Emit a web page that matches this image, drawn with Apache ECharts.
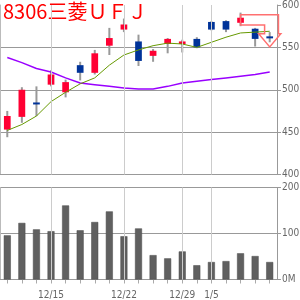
<!DOCTYPE html>
<html>
<head>
<meta charset="utf-8">
<script src="https://cdn.jsdelivr.net/npm/echarts@6/dist/echarts.min.js"></script>
<style>
html,body{margin:0;padding:0;background:#fff;}
#chart{width:300px;height:300px;}
</style>
</head>
<body>
<div id="chart"></div>
<script>
var title = '8306三菱ＵＦＪ';
var dates = ['12/10','12/11','12/12','12/15','12/16','12/17','12/18','12/19','12/22','12/24','12/25','12/26','12/29','12/30','1/5','1/6','1/7','1/8','1/9'];
var labelDates = ['12/15','12/22','12/29','1/5'];
var opens  = [453,468,485,506,497,529,520,552,571,557,540,554,554,560,580,581,579,572,563];
var closes = [469,500,484,518,509,520,543,561,577,534,546,560,557,550,571,571,585,560,562];
var lows   = [444,461,469,504,491,511,518,541,568,528,533,543,544,549,570,568,575,551,556];
var highs  = [475,503,504,523,512,533,547,573,584,565,548,561,559,562,581,582,591,573,568];
var maShort = [452,459,469,486,497,507,514,529,541,547,552,555,554,550,556,562,567,568,569];
var maLong  = [538,532,525,521,514,508,506,504,502,501,501,504,508,510,512,514,516,518,521];
var volume  = [96,123,109,105,161,107,125,148,94,111,53,46,61,31,38,40,57,51,38]; // 百万株
// 矢印: 1/7 の高値付近から 1/9 へ
var arrowFrom = ['1/7', 588.5, 576.5];
var arrowTo   = ['1/9', 566, 550.5];

var labelFont = '"Liberation Sans Narrow","DejaVu Sans Condensed","DejaVu Sans",sans-serif';
var grayLine = '#999';

var chart = echarts.init(document.getElementById('chart'));

var vlines = labelDates.map(function(d){ return {xAxis: d}; });
var vlineMark = {
	silent: true,
	symbol: 'none',
	label: {show: false},
	lineStyle: {color: '#ccc', width: 1, type: 'solid'},
	data: vlines
};

var option = {
	animation: false,
	graphic: [{
		type: 'text',
		left: 3,
		top: 1,
		style: {text: title, fill: '#ff0000', font: '20px "Noto Sans CJK JP"'}
	}],
	grid: [
		{left: 0, right: 23, top: 5, height: 169.5, outerBoundsMode: 'none'},
		{left: 0, right: 23, top: 187.5, height: 92, outerBoundsMode: 'none'}
	],
	xAxis: [{
		type: 'category', gridIndex: 0, data: dates,
		axisLine: {lineStyle: {color: grayLine}},
		axisTick: {show: false},
		axisLabel: {show: false},
		splitLine: {show: false}
	}, {
		type: 'category', gridIndex: 1, data: dates,
		axisLine: {lineStyle: {color: grayLine}},
		axisTick: {show: true, alignWithLabel: true, interval: 0, length: 4, lineStyle: {color: '#aaa'}},
		axisLabel: {
			interval: function(i, v){ return labelDates.indexOf(v) >= 0; },
			color: '#666', fontSize: 10, fontFamily: labelFont, margin: 11
		},
		splitLine: {show: false}
	}],
	yAxis: [{
		type: 'value', gridIndex: 0, position: 'right', min: 400, max: 600, interval: 50,
		axisLine: {show: true, lineStyle: {color: grayLine}},
		axisTick: {show: true, length: 4, lineStyle: {color: grayLine}},
		axisLabel: {color: '#666', fontSize: 10, fontFamily: labelFont, margin: 5},
		splitLine: {show: true, lineStyle: {color: [grayLine, grayLine, grayLine, grayLine, 'rgba(0,0,0,0)']}}
	}, {
		type: 'value', gridIndex: 1, position: 'right', min: 0, max: 200, interval: 100,
		axisLine: {show: true, lineStyle: {color: grayLine}},
		axisTick: {show: true, length: 4, lineStyle: {color: grayLine}},
		axisLabel: {color: '#666', fontSize: 10, fontFamily: labelFont, margin: 5, formatter: '{value}M'},
		splitLine: {show: true, lineStyle: {color: grayLine}}
	}, {
		type: 'value', gridIndex: 0, position: 'left', min: 400, max: 600,
		axisLine: {show: true, lineStyle: {color: '#bbb'}},
		axisTick: {show: false}, axisLabel: {show: false}, splitLine: {show: false}
	}, {
		type: 'value', gridIndex: 1, position: 'left', min: 0, max: 200,
		axisLine: {show: true, lineStyle: {color: '#bbb'}},
		axisTick: {show: false}, axisLabel: {show: false}, splitLine: {show: false}
	}],
	series: [{
		// 縦の日付線
		type: 'line', xAxisIndex: 0, yAxisIndex: 0, data: [], z: 1,
		markLine: vlineMark
	}, {
		type: 'custom', xAxisIndex: 0, yAxisIndex: 0, z: 2,
		data: dates.map(function(d, i){ return [i, opens[i], closes[i], lows[i], highs[i]]; }),
		encode: {x: 0, y: [1, 2, 3, 4]},
		renderItem: function(params, api){
			var i = api.value(0);
			var o = api.coord([i, api.value(1)]);
			var c = api.coord([i, api.value(2)]);
			var l = api.coord([i, api.value(3)]);
			var h = api.coord([i, api.value(4)]);
			var w = api.size([1, 0])[0] * 0.46;
			var up = api.value(2) >= api.value(1);
			var top = Math.min(o[1], c[1]);
			var ht = Math.max(Math.abs(o[1] - c[1]), 2);
			return {type: 'group', children: [
				{type: 'line', shape: {x1: h[0], y1: h[1], x2: l[0], y2: l[1]}, style: {stroke: '#999', lineWidth: 2}},
				{type: 'rect', shape: {x: o[0] - w / 2, y: top, width: w, height: ht}, style: {fill: up ? '#ff0033' : '#003399'}}
			]};
		}
	}, {
		type: 'line', xAxisIndex: 0, yAxisIndex: 0, data: maLong, z: 3,
		showSymbol: false, lineStyle: {color: '#9900ff', width: 1.5}
	}, {
		type: 'line', xAxisIndex: 0, yAxisIndex: 0, data: maShort, z: 3,
		showSymbol: false, lineStyle: {color: '#669900', width: 1}
	}, {
		type: 'custom', xAxisIndex: 0, yAxisIndex: 0, z: 4,
		data: [[dates.indexOf(arrowFrom[0]), dates.indexOf(arrowTo[0])]],
		renderItem: function(params, api){
			var a = api.value(0), b = api.value(1);
			var band = api.size([1, 0])[0];
			var p1 = api.coord([a, arrowFrom[1]]);
			var p2 = api.coord([a, arrowFrom[2]]);
			var hb = api.coord([b, arrowTo[1]]);
			var tip = api.coord([b, arrowTo[2]]);
			var outer = hb[0] + band * 0.6, inner = hb[0] - band * 0.35;
			var half = band * 0.76;
			return {type: 'polygon', shape: {points: [
				[p1[0], p1[1]], [outer, p1[1]], [outer, hb[1]], [hb[0] + half, hb[1]],
				[tip[0], tip[1]], [hb[0] - half, hb[1]], [inner, hb[1]], [inner, p2[1]], [p2[0], p2[1]]
			]}, style: {fill: 'none', stroke: '#ff7070', lineWidth: 1.5}};
		}
	}, {
		type: 'line', xAxisIndex: 1, yAxisIndex: 1, data: [], z: 1,
		markLine: vlineMark
	}, {
		type: 'bar', xAxisIndex: 1, yAxisIndex: 1, data: volume, z: 2,
		barWidth: 7,
		itemStyle: {color: '#606060', borderColor: '#4a4a4a', borderWidth: 0.5}
	}]
};
chart.setOption(option);
</script>
</body>
</html>
